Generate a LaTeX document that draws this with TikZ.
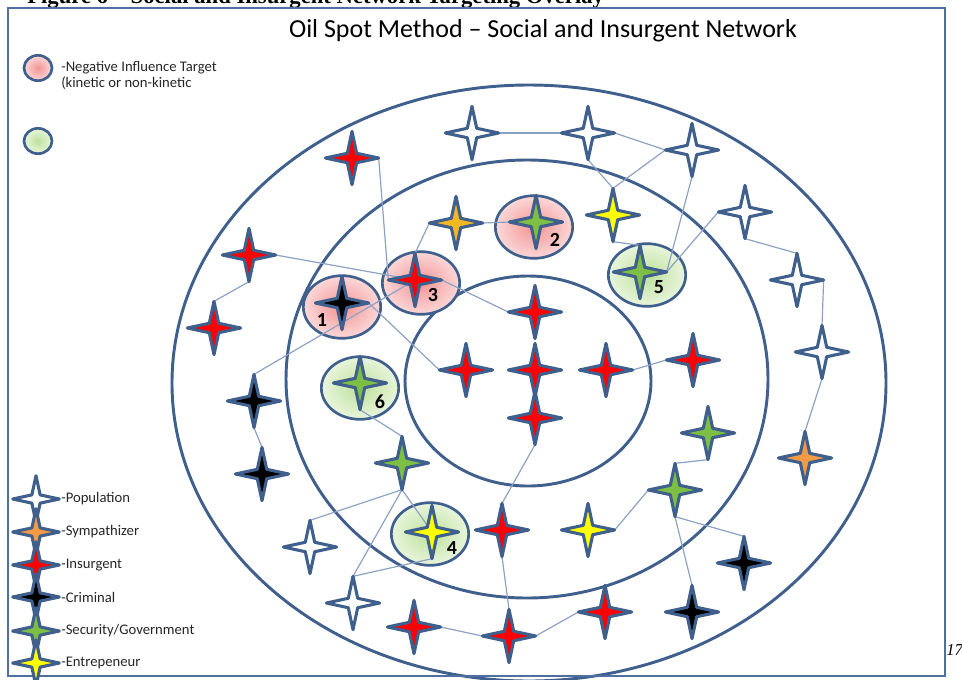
\documentclass[tikz,border=0pt]{standalone}
\usepackage{fontspec}
\setmainfont{Carlito}
\newfontfamily\capfont{Liberation Serif}
\usetikzlibrary{shapes.geometric}

\definecolor{ringblue}{HTML}{3F5F8C}
\definecolor{linkblue}{HTML}{8CA2C4}
\definecolor{framecol}{HTML}{4F6F9F}
\definecolor{insred}{HTML}{FF0000}
\definecolor{secgreen}{HTML}{7DBE45}
\definecolor{entyellow}{HTML}{FFFF00}
\definecolor{symorange}{HTML}{F39A45}
\definecolor{amber}{HTML}{F2B824}
\definecolor{pinkin}{HTML}{F29494}
\definecolor{pinkout}{HTML}{FCD8D8}
\definecolor{greenin}{HTML}{BEE19C}
\definecolor{greenout}{HTML}{E8F5DC}

\pgfdeclarelayer{rings}
\pgfdeclarelayer{links}
\pgfsetlayers{rings,links,main}

\begin{document}
\begin{tikzpicture}[x=0.75pt,y=-0.75pt,
  agent/.style={star, star points=4, star point ratio=4, minimum size=40pt,
    inner sep=0pt, outer sep=0pt, draw=ringblue, line width=2.3pt, line join=round},
  pop/.style={agent, fill=white},
  sym/.style={agent, fill=symorange},
  ins/.style={agent, fill=insred},
  crim/.style={agent, fill=black},
  sec/.style={agent, fill=secgreen},
  ent/.style={agent, fill=entyellow},
  amb/.style={agent, fill=amber},
  keyagent/.style={minimum size=35pt},
  ring/.style={draw=ringblue, line width=2.2pt},
  link/.style={draw=linkblue, line width=0.9pt},
  target/.style={ellipse, minimum width=58pt, minimum height=47pt, inner sep=0pt,
    draw=ringblue, line width=2pt},
  negtarget/.style={target, shading=radial, inner color=pinkin, outer color=pinkout},
  postarget/.style={target, shading=radial, inner color=greenin, outer color=greenout},
  numlab/.style={font=\fontsize{15}{15}\selectfont\bfseries, inner sep=0pt},
  keytext/.style={font=\fontsize{11}{12}\selectfont, anchor=west, inner sep=0pt, text=black!85},
]
\clip (0,0) rectangle (962,679);
\useasboundingbox (0,0) rectangle (962,679);

% caption of the page and page number
\node[font=\capfont\bfseries\fontsize{17}{17}\selectfont, anchor=base west, inner sep=0pt]
  (caption) at (27,3) {Figure 6 – Social and Insurgent Network Targeting Overlay};
\node[font=\capfont\itshape\fontsize{12.5}{12.5}\selectfont, anchor=base west, inner sep=0pt]
  (pagenum) at (946,655) {17};

% frame and title
\draw[framecol, line width=1.8pt] (8,8) rectangle (945,676);
\node[font=\fontsize{19.5}{20}\selectfont, anchor=base, inner sep=0pt] (title) at (543,37)
  {Oil Spot Method – Social and Insurgent Network};

% concentric rings
\begin{pgfonlayer}{rings}
  \draw[ring] (529,383) ellipse [x radius=357, y radius=298];
  \draw[ring] (527,379) ellipse [x radius=241, y radius=219];
  \draw[ring] (528,381) ellipse [x radius=123, y radius=105];
  % targets
  \node[negtarget] (t1) at (342,307) {};
  \node[negtarget] (t2) at (534,227) {};
  \node[negtarget] (t3) at (421,283) {};
  \node[postarget] (t4) at (430,534) {};
  \node[postarget] (t5) at (647,275) {};
  \node[postarget] (t6) at (360,388) {};
  % key markers
  \node[negtarget, minimum width=21pt, minimum height=19pt] (negkey) at (38,68) {};
  \node[postarget, minimum width=21pt, minimum height=19pt] (poskey) at (38,141) {};
\end{pgfonlayer}

% key texts
\node[keytext, anchor=north west, align=left, font=\fontsize{11}{12}\selectfont]
  (negtext) at (61,61) {-Negative Influence Target\\(kinetic or non-kinetic};

% network members
\node[pop] (p1) at (472,133) {};
\node[pop] (p2) at (588,133) {};
\node[pop] (p3) at (692,150) {};
\node[ins] (r1) at (352,158) {};
\node[pop] (p4) at (745,212) {};
\node[ent] (y1) at (613,215) {};
\node[amb] (a1) at (456,223) {};
\node[sec] (g2) at (536,222) {};
\node[ins] (r2) at (249,255) {};
\node[sec] (g5) at (640,272) {};
\node[ins] (r3) at (415,280) {};
\node[pop] (p5) at (797,280) {};
\node[crim] (k1) at (342,303) {};
\node[ins] (r4) at (535,312) {};
\node[ins] (r5) at (214,328) {};
\node[pop] (p6) at (822,352) {};
\node[ins] (r6) at (693,360) {};
\node[ins] (r7) at (466,370) {};
\node[ins] (r8) at (535,370) {};
\node[ins] (r9) at (606,370) {};
\node[sec] (g6) at (360,383) {};
\node[crim] (k2) at (254,401) {};
\node[ins] (r10) at (535,418) {};
\node[sec] (g7) at (708,433) {};
\node[sym] (o1) at (805,458) {};
\node[sec] (g8) at (402,463) {};
\node[crim] (k3) at (262,474) {};
\node[sec] (g9) at (675,490) {};
\node[ins] (r11) at (502,530) {};
\node[ent] (y4) at (432,532) {};
\node[ent] (y2) at (588,530) {};
\node[pop] (p7) at (310,547) {};
\node[crim] (k4) at (744,563) {};
\node[pop] (p8) at (353,603) {};
\node[ins] (r12) at (605,612) {};
\node[crim] (k5) at (692,612) {};
\node[ins] (r13) at (414,627) {};
\node[ins] (r14) at (509,636) {};

% target numbers
\node[numlab] (n1) at (322,320) {1};
\node[numlab] (n2) at (555,240) {2};
\node[numlab] (n3) at (433,295) {3};
\node[numlab] (n4) at (452,548) {4};
\node[numlab] (n5) at (659,287) {5};
\node[numlab] (n6) at (380,402) {6};

% links between members
\begin{pgfonlayer}{links}
  \draw[link] (r1.east) -- (r3.west);
  \draw[link] (r2.east) -- (r3.center);
  \draw[link] (r3.east) -- (r4.west);
  \draw[link] (r2.south) -- (r5.north);
  \draw[link] (a1.west) -- (r3.north);
  \draw[link] (a1.east) -- (g2.west);
  \draw[link] (k2.north) -- (r3.center);
  \draw[link] (k1.east) -- (r7.west);
  \draw[link] (k2.south) -- (k3.north);
  \draw[link] (g6.south) -- (g8.north);
  \draw[link] (g8.south) -- (p7.north);
  \draw[link] (g8.south) -- (p8.north);
  \draw[link] (g8.south) -- (y4.center);
  \draw[link] (y4.south) -- (p8.north);
  \draw[link] (r11.north) -- (r10.south);
  \draw[link] (r11.south) -- (r14.north);
  \draw[link] (r13.east) -- (r14.west);
  \draw[link] (r14.east) -- (r12.west);
  \draw[link] (y2.east) -- (g9.west);
  \draw[link] (g9.north) -- (g7.south);
  \draw[link] (g9.south) -- (k4.north);
  \draw[link] (g9.south) -- (k5.north);
  \draw[link] (r9.east) -- (r6.west);
  \draw[link] (y1.south) -- (g5.north);
  \draw[link] (p2.south) -- (y1.north);
  \draw[link] (p3.west) -- (y1.north);
  \draw[link] (p1.east) -- (p2.west);
  \draw[link] (p2.east) -- (p3.west);
  \draw[link] (p3.south) -- (g5.east);
  \draw[link] (p4.west) -- (g5.east);
  \draw[link] (p4.south) -- (p5.north);
  \draw[link] (p5.east) -- (p6.north);
  \draw[link] (p6.south) -- (o1.north);
\end{pgfonlayer}

% key of member types
\node[pop, keyagent] (kpop) at (36,499) {};
\node[sym, keyagent] (ksym) at (36,532) {};
\node[ins, keyagent] (kins) at (36,565) {};
\node[crim, keyagent] (kcrim) at (36,597) {};
\node[sec, keyagent] (ksec) at (36,631) {};
\node[ent, keyagent] (kent) at (36,663) {};
\node[keytext] (tpop) at (61,499) {-Population};
\node[keytext] (tsym) at (61,532) {-Sympathizer};
\node[keytext] (tins) at (61,565) {-Insurgent};
\node[keytext] (tcrim) at (61,597) {-Criminal};
\node[keytext] (tsec) at (61,631) {-Security/Government};
\node[keytext] (tent) at (61,663) {-Entrepeneur};
\end{tikzpicture}
\end{document}
